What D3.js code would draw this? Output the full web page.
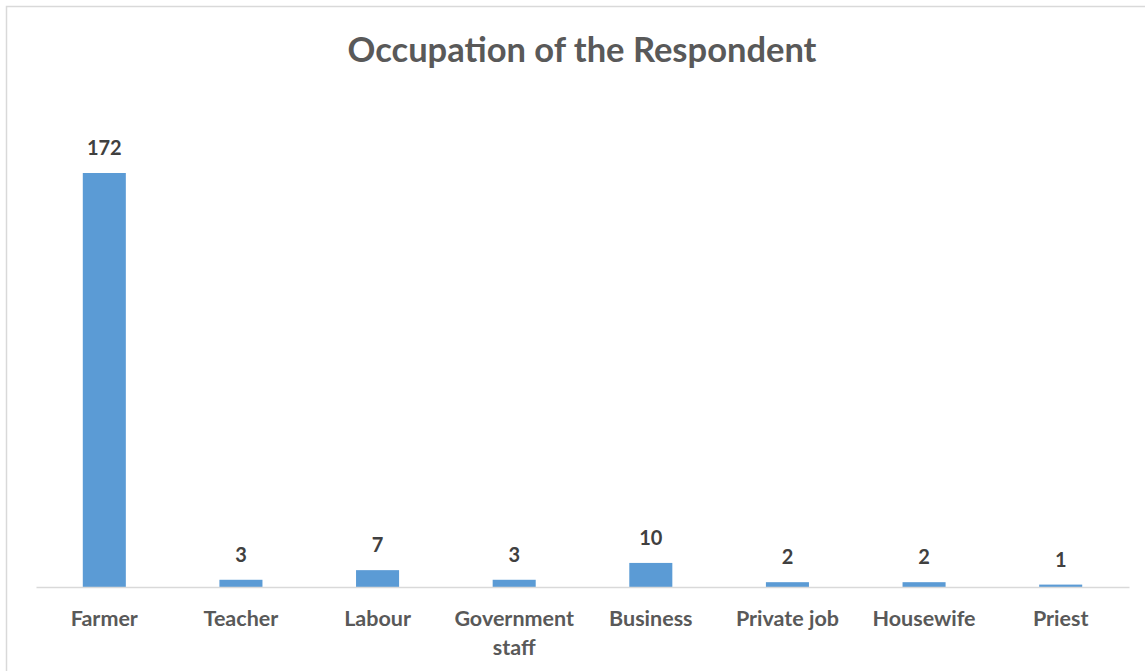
<!DOCTYPE html>
<html>
<head>
<meta charset="utf-8">
<script src="https://cdn.jsdelivr.net/npm/d3@7"></script>
<style>
  html, body { margin: 0; padding: 0; background: #fff; }
  svg text { font-family: Lato, "Open Sans", sans-serif; font-weight: bold; }
</style>
</head>
<body>
<svg id="chart" width="1145" height="671"></svg>
<script>
// Respondents by occupation
const categories = ["Farmer", "Teacher", "Labour", "Government staff", "Business", "Private job", "Housewife", "Priest"];
const counts = [172, 3, 7, 3, 10, 2, 2, 1];
const title = "Occupation of the Respondent";

const svg = d3.select("#chart");
const W = 1145, H = 671;

// chart frame
svg.append("rect")
  .attr("x", 6.5).attr("y", 6.5)
  .attr("width", W + 10).attr("height", H + 10)
  .attr("fill", "#fff")
  .attr("stroke", "#d9d9d9").attr("stroke-width", 1.5);

const plot = { left: 36, right: 1129, top: 173, bottom: 587 };

const x = d3.scaleBand()
  .domain(categories)
  .range([plot.left, plot.right])
  .paddingInner(0.685)
  .paddingOuter(0.3425);

const y = d3.scaleLinear()
  .domain([0, 172])
  .range([plot.bottom, plot.top]);

// bars
svg.append("g").selectAll("rect")
  .data(categories)
  .join("rect")
  .attr("x", d => x(d))
  .attr("y", (d, i) => y(counts[i]))
  .attr("width", x.bandwidth())
  .attr("height", (d, i) => y(0) - y(counts[i]))
  .attr("fill", "#5b9bd5");

// category axis
const axis = svg.append("g")
  .attr("transform", `translate(0,${y(0)})`)
  .call(d3.axisBottom(x).tickSize(0).tickSizeOuter(0).tickFormat(""));
axis.select(".domain").attr("stroke", "#d9d9d9").attr("stroke-width", 1.5);

// category labels, wrapped onto two lines where needed
const wrap = { "Government staff": ["Government", "staff"] };
svg.append("g").selectAll("text")
  .data(categories)
  .join("text")
  .attr("x", d => x(d) + x.bandwidth() / 2)
  .attr("y", 626)
  .attr("text-anchor", "middle")
  .attr("font-size", 21.5)
  .attr("fill", "#595959")
  .each(function (d) {
    const lines = wrap[d] || [d];
    d3.select(this).selectAll("tspan")
      .data(lines)
      .join("tspan")
      .attr("x", x(d) + x.bandwidth() / 2)
      .attr("dy", (l, i) => i === 0 ? 0 : 29)
      .text(l => l);
  });

// value labels
svg.append("g").selectAll("text")
  .data(categories)
  .join("text")
  .attr("x", d => x(d) + x.bandwidth() / 2)
  .attr("y", (d, i) => y(counts[i]) - 18)
  .attr("text-anchor", "middle")
  .attr("font-size", 20)
  .attr("fill", "#404040")
  .text((d, i) => counts[i]);

// title
svg.append("text")
  .attr("x", 582)
  .attr("y", 62)
  .attr("text-anchor", "middle")
  .attr("font-size", 34.5)
  .attr("fill", "#595959")
  .text(title);
</script>
</body>
</html>
